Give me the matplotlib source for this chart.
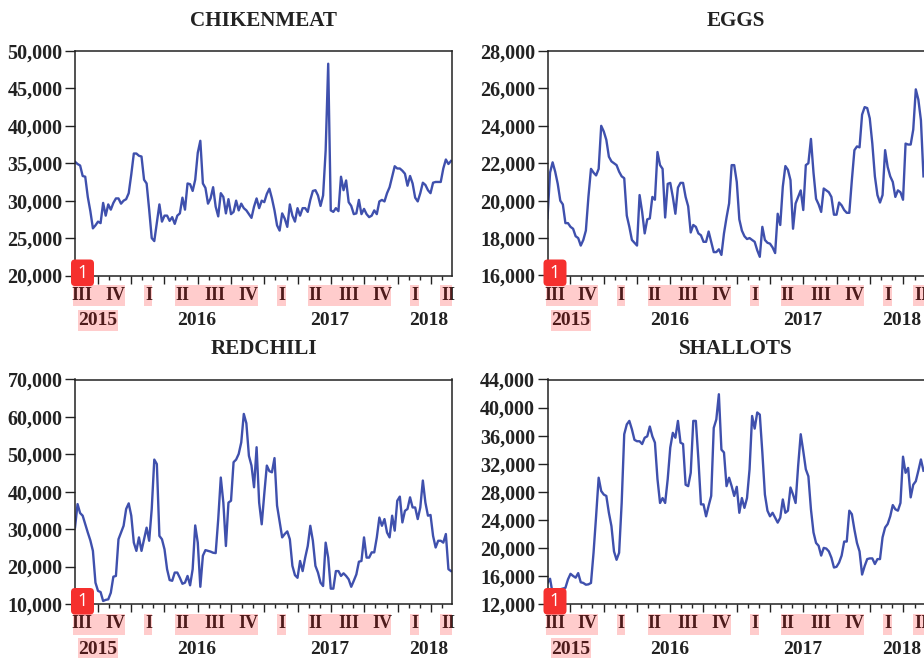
import matplotlib
matplotlib.use('Agg')
from matplotlib import pyplot as plt
from matplotlib.patches import FancyBboxPatch, Rectangle
from matplotlib.transforms import IdentityTransform
from matplotlib.ticker import FuncFormatter
import numpy as np

# Weekly prices
chikenmeat = [35200,34900,34700,33300,33200,30500,28600,26300,26700,27200,27000,29700,28000,29500,28800,29700,30300,30300,29600,30000,
 30200,31000,33500,36300,36300,36000,35900,32800,32300,28800,25000,24600,27000,29500,27200,28000,28000,27300,27800,26900,
 28000,28300,30400,28800,32300,32200,31300,32800,36400,38000,32300,31700,29600,30300,31800,29200,27900,31000,30500,28300,
 30200,28200,28500,30000,28700,29600,29000,28700,28200,27700,29200,30300,29000,30000,29800,30900,31600,30300,28700,26700,
 26000,28300,27600,26500,29500,28000,27200,29000,28000,29000,29000,28500,30100,31300,31400,30700,29300,30700,36700,48300,
 28700,28500,29000,28600,33200,31400,32700,29800,29300,28200,28300,30100,28200,28900,28200,27800,28000,28700,28200,29900,
 30100,29900,31000,31800,33200,34600,34300,34300,34000,33600,32000,33300,32300,30400,29900,31000,32400,32100,31400,31000,
 32400,32500,32500,32500,34300,35500,34900,35300]

eggs = [19050,21500,22050,21550,20900,20000,19800,18800,18800,18600,18500,18100,18000,17600,17900,18400,20200,21700,21500,21350,
 21700,24000,23700,23250,22350,22100,22000,21900,21550,21300,21200,19200,18600,17900,17750,17600,20300,19400,18250,19000,
 19050,20200,20050,22600,21900,21700,19100,20900,20950,20200,19300,20700,20950,20950,20200,19700,18300,18700,18600,18250,
 18150,17800,17800,18350,17800,17250,17250,17400,17100,18250,19100,19850,21900,21900,21000,19000,18400,18100,17950,18000,
 17900,17800,17350,17000,18600,17900,17750,17700,17500,17200,19300,18700,20750,21850,21650,21100,18500,19850,20200,20550,
 19500,21900,22000,23300,21500,20100,19800,19400,20650,20550,20450,20200,19250,19250,19900,19750,19500,19350,19350,21100,
 22700,22900,22850,24600,25000,24950,24400,23050,21300,20300,19900,20300,22700,21800,21300,21000,20200,20550,20450,20050,
 23050,23000,23000,23800,25950,25400,24300,21300]

redchili = [30450,36700,34300,33600,31300,29100,27000,24200,15700,13500,13200,10800,11100,11250,13000,17300,17500,27300,29100,30900,
 35400,36900,33600,26400,24200,27800,24200,27300,30400,26900,35400,48600,47400,28200,27300,24600,19300,16400,16200,18400,
 18400,17000,15400,15700,17500,15000,19300,31000,26400,14600,22900,24400,24200,24000,23700,23600,32700,43800,37100,25500,
 37100,37600,47900,48600,50100,53200,60800,58300,49600,47000,41200,51900,37100,31300,39400,47000,45500,45200,49000,36300,
 32000,27800,28700,29400,27300,20200,17700,17000,21500,18800,22400,25500,30900,26900,20200,18400,15700,14800,26400,22400,
 14100,14100,18800,18800,17500,18200,17500,16600,14600,16200,17900,21300,21500,27800,22400,22400,23800,23800,27800,33100,
 30900,32700,29100,27800,33600,29600,37600,38700,31800,34900,35400,38500,35800,35800,32700,35800,43000,37100,33600,33800,
 28200,25100,26900,26900,26400,28700,19300,18800]

shallots = [15000,15600,13500,13500,13600,14100,14200,14300,15500,16300,16000,15750,16400,15100,15000,14750,14800,15000,19300,24500,
 30000,28100,27600,27400,25000,23100,19500,18300,19300,26400,36200,37600,38100,36900,35400,35200,35200,34800,35700,35900,
 37300,35900,35000,29800,26400,27100,26400,29800,34300,36400,35700,38100,35000,34800,29000,28800,30700,38100,38100,32600,
 26200,26200,24500,26000,27400,37100,38300,41900,34000,33600,28800,30000,28800,27400,28700,25000,27100,25700,27100,31200,
 38800,37000,39300,39000,33600,27600,25300,24500,25000,24300,23600,24300,26900,25000,25300,28600,27600,26400,31700,36200,
 33800,31200,30200,25500,22200,20700,20300,18900,20000,19900,19500,18600,17200,17300,17900,18900,20900,20900,25300,24800,
 22600,20700,19500,16200,17400,18400,18500,18500,17700,18400,18400,21500,22900,23400,24500,26100,25500,25300,26400,33000,
 30700,31400,27200,29000,29500,31000,32600,31000]

titles = ['CHIKENMEAT', 'EGGS', 'REDCHILI', 'SHALLOTS']
series = [chikenmeat, eggs, redchili, shallots]
y_ranges = [(20000, 50000, 5000), (16000, 28000, 2000), (10000, 70000, 10000), (12000, 44000, 4000)]
quarters = ['III', 'IV', 'I', 'II', 'III', 'IV', 'I', 'II', 'III', 'IV', 'I', 'II']
years = ['2015', '2016', '2017', '2018']

W, H = 924, 658
PANEL_W, PANEL_H = 377, 224.5
panels = [(75, 51), (547.5, 51), (75, 379.5), (547.5, 379.5)]  # left, top in pixels
LINE = '#3f50ad'
DARK = '#222222'
PINK = (1, 0, 0, 0.2)
FONT = 'Liberation Serif'

weeks_end = 147.4
first_major = 8.87
quarter_len = 13.03

# Pink bands under the labels, pixels from the panel's left edge
quarter_bands = [(-2, 50), (69, 77), (100, 183), (202, 211), (233, 316), (335, 344), (365, 377)]
year_pos = [23, 122, 255, 354]
year_band = (3, 43)

fig = plt.figure(figsize=(W / 100, H / 100), dpi=100, facecolor='white')


def add_band(x0, x1, top, bottom):
    fig.add_artist(Rectangle((x0, H - bottom), x1 - x0, bottom - top, transform=IdentityTransform(),
                             facecolor=PINK, edgecolor='none', zorder=5))


for (left, top), title, values, (ymin, ymax, ystep) in zip(panels, titles, series, y_ranges):
    ax = fig.add_axes([left / W, 1 - (top + PANEL_H) / H, PANEL_W / W, PANEL_H / H])
    ax.plot(np.arange(len(values)), values, color=LINE, lw=1.7, solid_joinstyle='round')
    ax.set_xlim(0, weeks_end)
    ax.set_ylim(ymin, ymax)

    ax.set_yticks(np.arange(ymin, ymax + 1, ystep))
    ax.yaxis.set_major_formatter(FuncFormatter(lambda v, p: f'{int(v):,}'))
    ax.tick_params(axis='y', length=7, width=1, color=DARK, pad=2, labelcolor=DARK)
    for lab in ax.get_yticklabels():
        lab.set_fontfamily(FONT)
        lab.set_fontweight('bold')
        lab.set_fontsize(14.5)

    majors = first_major + quarter_len * np.arange(0, 11)
    minors = first_major + quarter_len / 3 * np.arange(-2, 33)
    ax.set_xticks(majors[majors < weeks_end])
    ax.set_xticks(minors[(minors > 0) & (minors < weeks_end)], minor=True)
    ax.tick_params(axis='x', which='major', length=6, width=1, color=DARK, labelbottom=False)
    ax.tick_params(axis='x', which='minor', length=3, width=1, color=DARK)

    for s in ax.spines.values():
        s.set_linewidth(1.1)
        s.set_color(DARK)

    fig.text((left + PANEL_W / 2) / W, 1 - (top - 30) / H, title, ha='center', va='center',
             family=FONT, weight='bold', fontsize=15.2, color=DARK)

    # Quarter and year labels, with the pink marks laid over them
    bottom = top + PANEL_H
    for k, q in enumerate(quarters):
        centre = left + 1 + (first_major + quarter_len * (k - 0.5)) * PANEL_W / weeks_end
        fig.text(centre / W, 1 - (bottom + 20) / H, q, ha='center', va='center',
                 family=FONT, weight='bold', fontsize=13, color=DARK)
    for y, xp in zip(years, year_pos):
        fig.text((left + xp) / W, 1 - (bottom + 45) / H, y, ha='center', va='center',
                 family=FONT, weight='bold', fontsize=14, color=DARK)
    for a, b in quarter_bands:
        add_band(left + a, min(left + b, left + PANEL_W), bottom + 9.5, bottom + 30.5)
    add_band(left + year_band[0], left + year_band[1], bottom + 34, bottom + 55)

    # Red numbered marker on each panel's corner
    fig.add_artist(FancyBboxPatch((left - 1, H - bottom - 7.5), 17, 20.5,
                                  boxstyle='round,pad=3,rounding_size=4', transform=IdentityTransform(),
                                  facecolor='#f5302e', edgecolor='none', zorder=6))
    fig.text((left + 7.5) / W, 1 - (bottom - 3) / H, '1', ha='center', va='center', color='white',
             family='Open Sans', fontsize=13, zorder=7)

fig.savefig('out.png', dpi=100)
